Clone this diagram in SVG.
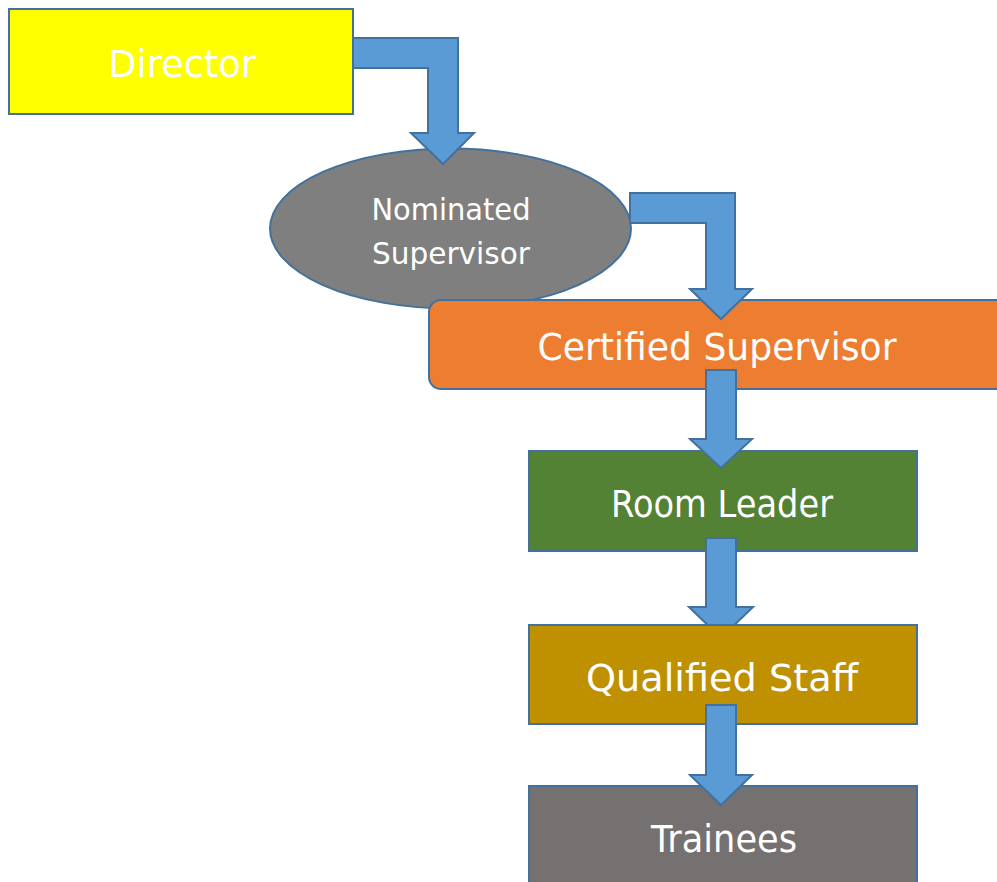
<svg xmlns="http://www.w3.org/2000/svg" width="997" height="882" viewBox="0 0 997 882">
  <style>
    .node { stroke: #41719C; stroke-width: 2; }
    .label { fill: #FFFFFF; font-family: "Comic Sans MS", "DejaVu Sans", sans-serif; text-anchor: middle; }
    .big { font-size: 37px; }
    .small { font-size: 31px; }
    .flow { fill: #5B9BD5; stroke: #41719C; stroke-width: 2; stroke-linejoin: miter; }
  </style>
  <rect width="997" height="882" fill="#FFFFFF"/>

  <g id="director">
    <rect class="node" x="9" y="9" width="344" height="105" fill="#FFFF00"/>
    <text class="label big" x="182" y="77" textLength="148" lengthAdjust="spacingAndGlyphs">Director</text>
  </g>

  <g id="nominated-supervisor">
    <ellipse class="node" cx="450.5" cy="228.5" rx="180.5" ry="80" fill="#7F7F7F"/>
    <text class="label small" x="451" y="220" textLength="159" lengthAdjust="spacingAndGlyphs">Nominated</text>
    <text class="label small" x="451" y="264" textLength="158" lengthAdjust="spacingAndGlyphs">Supervisor</text>
  </g>

  <g id="certified-supervisor">
    <rect class="node" x="429" y="300" width="580" height="89" rx="12" ry="12" fill="#ED7D31"/>
    <text class="label big" x="717" y="360" textLength="359" lengthAdjust="spacingAndGlyphs">Certified Supervisor</text>
  </g>

  <g id="room-leader">
    <rect class="node" x="529" y="451" width="388" height="100" fill="#548235"/>
    <text class="label big" x="722" y="517" textLength="222" lengthAdjust="spacingAndGlyphs">Room Leader</text>
  </g>

  <g id="qualified-staff">
    <rect class="node" x="529" y="625" width="388" height="99" fill="#BF9000"/>
    <text class="label big" x="722" y="691" textLength="272" lengthAdjust="spacingAndGlyphs">Qualified Staff</text>
  </g>

  <g id="trainees">
    <rect class="node" x="529" y="786" width="388" height="110" fill="#767171"/>
    <text class="label big" x="724" y="852" textLength="146" lengthAdjust="spacingAndGlyphs">Trainees</text>
  </g>

  <g id="connectors">
    <!-- bent block arrow: Director to Nominated Supervisor -->
    <path class="flow" d="M353,38 L458,38 L458,133 L474,133 L443,164 L411,133 L428,133 L428,68 L353,68 Z"/>
    <!-- bent block arrow: Nominated Supervisor to Certified Supervisor -->
    <path class="flow" d="M630,193 L735,193 L735,289 L752,289 L721,319 L690,289 L706,289 L706,223 L630,223 Z"/>
    <!-- straight block arrows down the chain -->
    <path class="flow" d="M706,370 L736,370 L736,439 L752,439 L721,468 L690,439 L706,439 Z"/>
    <!-- head tip tucked under the Qualified Staff box edge -->
    <path class="flow" d="M706,538 L736,538 L736,607 L753,607 L734.4,625 L707.6,625 L689,607 L706,607 Z"/>
    <path class="flow" d="M706,705 L736,705 L736,775 L752,775 L721,805 L690,775 L706,775 Z"/>
  </g>
</svg>
